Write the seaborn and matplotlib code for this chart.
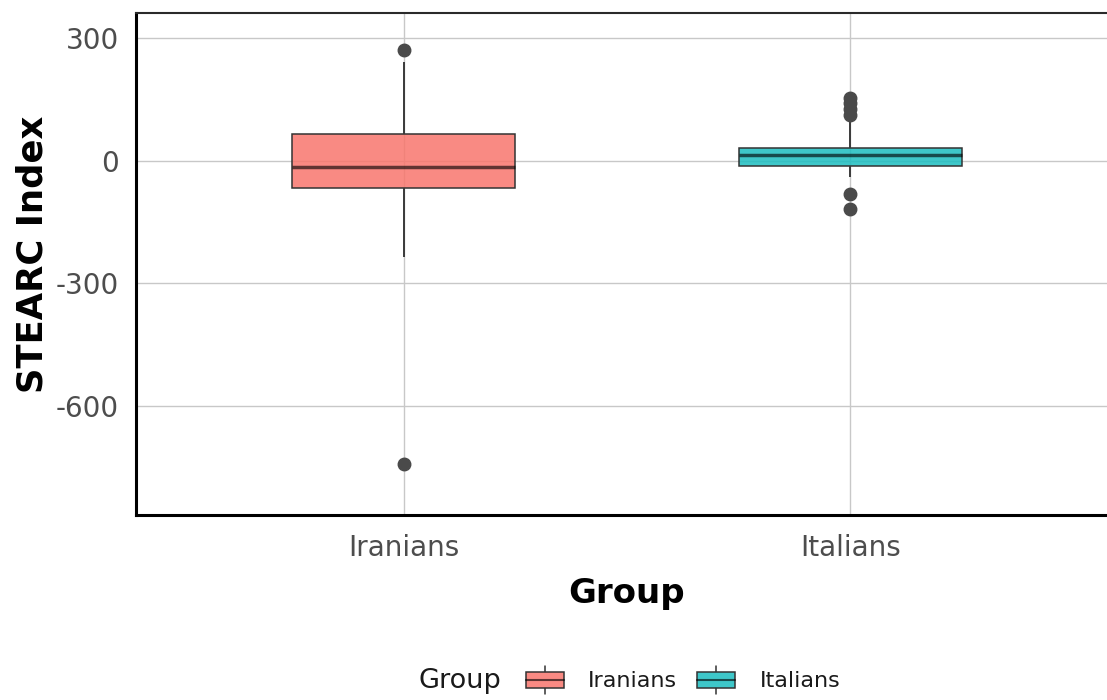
import matplotlib
matplotlib.use('Agg')
import matplotlib.pyplot as plt
import seaborn as sns
import pandas as pd
from matplotlib.legend_handler import HandlerBase
from matplotlib.patches import Rectangle
from matplotlib.lines import Line2D
from matplotlib.colors import to_rgb

# ---------------- data ----------------
groups = ['Iranians', 'Italians']
iranians_values = [-742, -235, -66, -40, -14, 20, 66, 242, 272]
italians_values = [-118, -82, -40, -25, -15, -12, -5, 0, 5, 10, 15,
                   20, 24, 28, 30, 32, 95, 112, 126, 142, 155]
group_colors = ['#F8766D', '#1CBDC0']
y_ticks = [-600, -300, 0, 300]
y_tick_labels = ['-600', '-300', '0', '300']
x_title = 'Group'
y_title = 'STEARC Index'
legend_title = 'Group'

df = pd.DataFrame({
    'Group': ['Iranians'] * len(iranians_values) + ['Italians'] * len(italians_values),
    'STEARC Index': iranians_values + italians_values,
})

sns.set_style('white')
plt.rcParams['font.family'] = ['DejaVu Sans']
plt.rcParams['axes.unicode_minus'] = False

W, H = 1107, 700
fig = plt.figure(figsize=(W / 100, H / 100), dpi=100)
ax_left, ax_right, ax_top, ax_bottom = 136, 1118, 13, 515
ax = fig.add_axes([ax_left / W, 1 - ax_bottom / H,
                   (ax_right - ax_left) / W, (ax_bottom - ax_top) / H])

line_col = '#333333'
sns.boxplot(
    data=df, x='Group', y='STEARC Index', hue='Group',
    order=groups, hue_order=groups, palette=group_colors,
    saturation=1, width=0.5, linewidth=1.1, linecolor=line_col,
    showcaps=False, legend=False, ax=ax,
    medianprops=dict(color=(0, 0, 0, 0.62), linewidth=2.5),
    whiskerprops=dict(color='#3a3a3a', linewidth=1.4),
    flierprops=dict(marker='o', markersize=9, markerfacecolor='#4a4a4a',
                    markeredgecolor='#4a4a4a'),
)

# semi-transparent fills, as in the reference
for p in ax.patches:
    r, g, b = to_rgb(p.get_facecolor())
    p.set_facecolor((r, g, b, 0.85))
    p.set_zorder(2)

ax.set_xlim(-0.6, 1.6)
ax.set_ylim(-867, 362)
ax.set_yticks(y_ticks)
ax.set_yticklabels(y_tick_labels)

ax.set_axisbelow(True)
ax.grid(True, color='#c8c8c8', linewidth=1.0)

ax.tick_params(axis='both', which='major', direction='out', length=6,
               width=1.1, color=line_col, labelcolor='#4d4d4d',
               labelsize=20)
ax.tick_params(axis='x', pad=8)
ax.tick_params(axis='y', pad=6.5)

ax.set_xlabel(x_title, fontsize=24.5, fontweight='bold', color='black')
ax.set_ylabel(y_title, fontsize=25.5, fontweight='bold', color='black')
ax.xaxis.set_label_coords(0.5, -(577 - ax_bottom) / (ax_bottom - ax_top))
ax.yaxis.set_label_coords((50 - ax_left) / (ax_right - ax_left), 0.52)

for side in ['left', 'bottom']:
    ax.spines[side].set_color('black')
    ax.spines[side].set_linewidth(2.2)
ax.spines['top'].set_color('#2a2a2a')
ax.spines['top'].set_linewidth(1.5)
ax.spines['right'].set_color('#2a2a2a')
ax.spines['right'].set_linewidth(1.5)


# ---------------- legend with box-plot glyphs ----------------
class BoxGlyph(HandlerBase):
    def create_artists(self, legend, orig_handle, xdescent, ydescent,
                       width, height, fontsize, trans):
        x0, y0 = -xdescent, -ydescent
        fc = orig_handle.get_facecolor()
        cx = x0 + width / 2
        lo, hi = y0 + 0.22 * height, y0 + 0.78 * height
        w1 = Line2D([cx, cx], [y0, lo], color=line_col, lw=1.1, transform=trans)
        w2 = Line2D([cx, cx], [hi, y0 + height], color=line_col, lw=1.1, transform=trans)
        rect = Rectangle((x0, lo), width, hi - lo, facecolor=fc,
                         edgecolor=line_col, lw=1.1, transform=trans)
        med = Line2D([x0, x0 + width], [(lo + hi) / 2] * 2,
                     color=(0, 0, 0, 0.62), lw=1.5, transform=trans)
        return [w1, w2, rect, med]


handles = []
for c in group_colors:
    r, g, b = to_rgb(c)
    handles.append(Rectangle((0, 0), 1, 1, facecolor=(r, g, b, 0.85)))

leg_fs = 16
leg = fig.legend(handles, groups, loc='center',
                 bbox_to_anchor=(683 / W, 1 - 680 / H),
                 ncol=2, frameon=False, fontsize=leg_fs,
                 handlelength=1.71, handleheight=1.62,
                 handletextpad=1.1, columnspacing=0.9,
                 borderpad=0, borderaxespad=0,
                 handler_map={Rectangle: BoxGlyph()})
for t in leg.get_texts():
    t.set_color('#1a1a1a')

fig.text(419 / W, 1 - 681 / H, legend_title, ha='left', va='center',
         fontsize=19.5, color='#1a1a1a')

fig.savefig('out.png', dpi=100)
